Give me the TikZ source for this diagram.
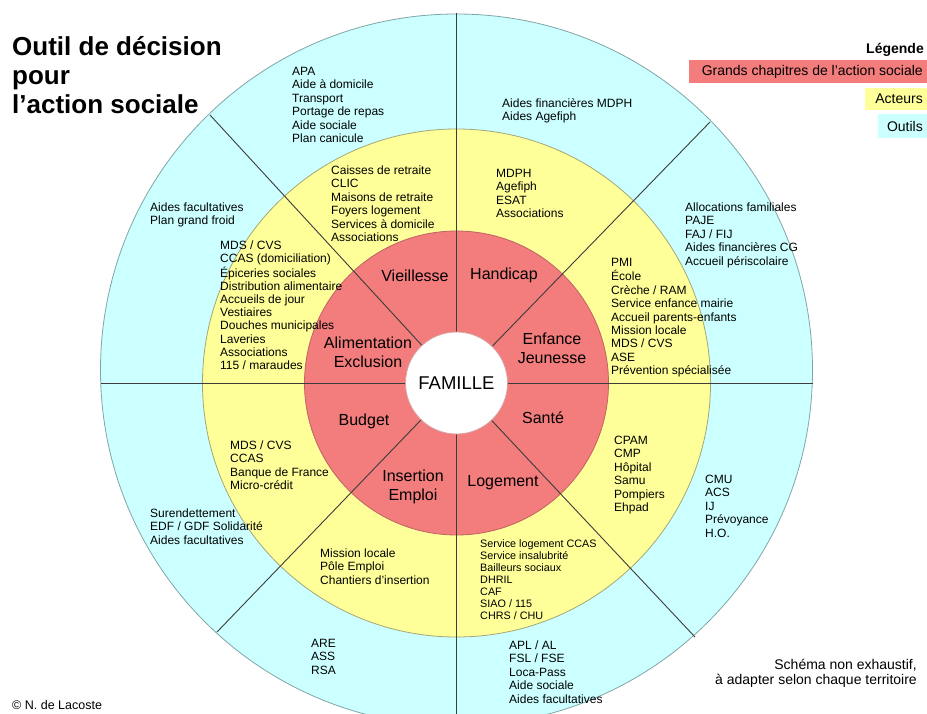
\documentclass[tikz,border=0pt]{standalone}
\usepackage{fontspec}
\setmainfont{Liberation Sans}
\definecolor{blu}{RGB}{204,255,255}
\definecolor{bluedge}{RGB}{130,165,165}
\definecolor{yel}{RGB}{255,255,153}
\definecolor{yeledge}{RGB}{165,165,120}
\definecolor{rouge}{RGB}{243,124,124}
\definecolor{rougeedge}{RGB}{190,100,100}
\definecolor{divline}{RGB}{60,60,60}
\newcommand{\lns}[1]{\begin{tabular}[t]{@{}l@{}}#1\end{tabular}}
\tikzset{
  outil/.style={anchor=base west, inner sep=0pt, font=\fontsize{12}{13.4}\selectfont},
  acteur/.style={anchor=base west, inner sep=0pt, font=\fontsize{12}{13.4}\selectfont},
  chap/.style={align=center, inner sep=0pt, font=\fontsize{16}{19}\selectfont},
  legbox/.style={inner sep=0pt},
  divider/.style={draw=divline, line width=0.9pt}
}
\begin{document}
\begin{tikzpicture}[x=1pt,y=-1pt]
\useasboundingbox (0,0) rectangle (927,713);
\clip (0,0) rectangle (927,713);
\fill[white] (0,0) rectangle (927,713);
% rings
\draw[draw=bluedge, fill=blu, line width=0.8pt] (456.5,370) circle[radius=356];
\draw[draw=yeledge, fill=yel, line width=0.8pt] (456.5,383) circle[radius=254];
\draw[draw=rougeedge, fill=rouge, line width=0.8pt] (456.5,383) circle[radius=152];
% dividers
\coordinate (c) at (456.5,383);
\coordinate (eT) at (456.5,13);
\coordinate (eB) at (456.5,730);
\coordinate (eL) at (100.5,383);
\coordinate (eR) at (812.5,383);
\coordinate (eUL) at (210,115);
\coordinate (eUR) at (710,122);
\coordinate (eLL) at (217,632);
\coordinate (eLR) at (695,637);
\foreach \e in {eT,eB,eL,eR,eUL,eUR,eLL,eLR} \draw[divider] (c) -- (\e);
\draw[draw=rougeedge!60, fill=white, line width=0.8pt] (c) circle[radius=51];
\node[inner sep=0pt, font=\fontsize{18.5}{20}\selectfont] (fam) at (456.5,383) {FAMILLE};
% chapters
\node[chap] (vie) at (415,276) {Vieillesse};
\node[chap] (han) at (504,275) {Handicap};
\node[chap] (enf) at (552,348.5) {Enfance\\Jeunesse};
\node[chap] (ali) at (368,352) {Alimentation\\Exclusion};
\node[chap] (bud) at (364,421) {Budget};
\node[chap] (san) at (543,418) {Santé};
\node[chap] (ins) at (413,486.5) {Insertion\\Emploi};
\node[chap] (log) at (503,483) {Logement};
% actors (yellow)
\node[acteur] (y1) at (331,174.5) {\lns{Caisses de retraite\\CLIC\\Maisons de retraite\\Foyers logement\\Services à domicile\\Associations}};
\node[acteur] (y2) at (496,177.5) {\lns{MDPH\\Agefiph\\ESAT\\Associations}};
\node[acteur] (y3) at (611,266.5) {\lns{PMI\\École\\Crèche / RAM\\Service enfance mairie\\Accueil parents-enfants\\Mission locale\\MDS / CVS\\ASE\\Prévention spécialisée}};
\node[acteur] (y4) at (614,444.5) {\lns{CPAM\\CMP\\Hôpital\\Samu\\Pompiers\\Ehpad}};
\node[acteur, font=\fontsize{10.8}{12.1}\selectfont] (y5) at (480,547) {\lns{Service logement CCAS\\Service insalubrité\\Bailleurs sociaux\\DHRIL\\CAF\\SIAO / 115\\CHRS / CHU}};
\node[acteur] (y6) at (320,557.5) {\lns{Mission locale\\Pôle Emploi\\Chantiers d’insertion}};
\node[acteur] (y7) at (230,449.5) {\lns{MDS / CVS\\CCAS\\Banque de France\\Micro-crédit}};
\node[acteur, font=\fontsize{12}{13.2}\selectfont] (y8) at (220,249.5) {\lns{MDS / CVS\\CCAS (domiciliation)\\Épiceries sociales\\Distribution alimentaire\\Accueils de jour\\Vestiaires\\Douches municipales\\Laveries\\Associations\\115 / maraudes}};
% tools (blue)
\node[outil] (b1) at (292,75.5) {\lns{APA\\Aide à domicile\\Transport\\Portage de repas\\Aide sociale\\Plan canicule}};
\node[outil] (b2) at (502,107.5) {\lns{Aides financières MDPH\\Aides Agefiph}};
\node[outil] (b3) at (685,211.5) {\lns{Allocations familiales\\PAJE\\FAJ / FIJ\\Aides financières CG\\Accueil périscolaire}};
\node[outil] (b4) at (705,483.5) {\lns{CMU\\ACS\\IJ\\Prévoyance\\H.O.}};
\node[outil] (b5) at (509,649.5) {\lns{APL / AL\\FSL / FSE\\Loca-Pass\\Aide sociale\\Aides facultatives}};
\node[outil] (b6) at (311,647.5) {\lns{ARE\\ASS\\RSA}};
\node[outil] (b7) at (150,517.5) {\lns{Surendettement\\EDF / GDF Solidarité\\Aides facultatives}};
\node[outil] (b8) at (150,211.5) {\lns{Aides facultatives\\Plan grand froid}};
% title
\node[anchor=base west, inner sep=0pt, font=\bfseries\fontsize{26}{29}\selectfont] (title) at (12,55) {\lns{Outil de décision\\pour\\l’action sociale}};
% legend
\node[anchor=base east, inner sep=0pt, font=\bfseries\fontsize{14}{16}\selectfont] (leg) at (924,53) {Légende};
\fill[rouge] (689,60) rectangle (927,83);
\node[anchor=east, inner sep=0pt, font=\fontsize{14}{16}\selectfont] (legr) at (923,71.5) {Grands chapitres de l’action sociale};
\fill[yel] (865,88) rectangle (927,110);
\node[anchor=east, inner sep=0pt, font=\fontsize{14}{16}\selectfont] (legy) at (923,99) {Acteurs};
\fill[blu] (878,114) rectangle (927,138);
\node[anchor=east, inner sep=0pt, font=\fontsize{14}{16}\selectfont] (legb) at (923,126) {Outils};
% footer
\node[anchor=base east, inner sep=0pt, font=\fontsize{14}{15}\selectfont, align=right] (note) at (917,684) {Schéma non exhaustif,\\à adapter selon chaque territoire};
\node[anchor=base west, inner sep=0pt, font=\fontsize{12.5}{14}\selectfont] (copy) at (12,709.5) {© N. de Lacoste};
\end{tikzpicture}
\end{document}
